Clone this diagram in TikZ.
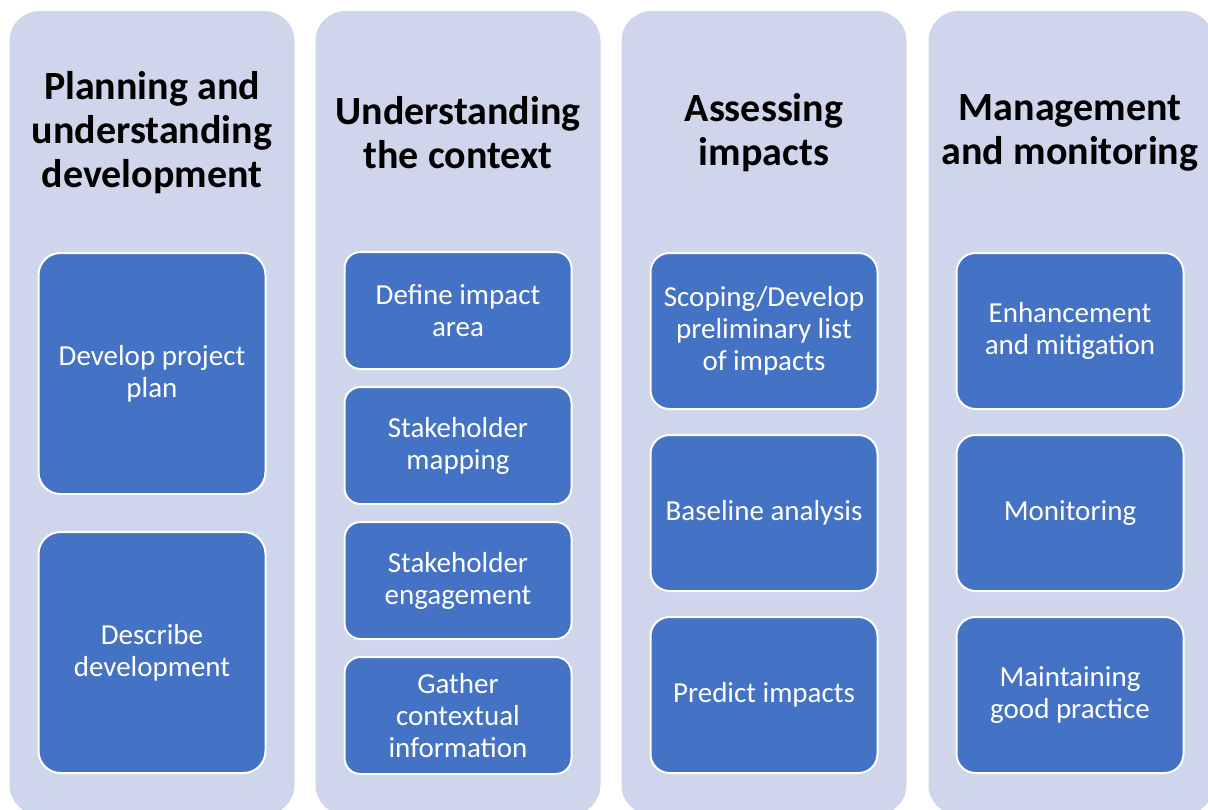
\documentclass[tikz,border=0pt]{standalone}
\usepackage{fontspec}
\setmainfont{Carlito}
\usetikzlibrary{positioning}
\definecolor{laneback}{HTML}{CFD5EA}
\definecolor{stepblue}{HTML}{4472C4}
\tikzset{
lane/.style={
  rectangle,
  rounded corners=30pt,
  fill=laneback,
  minimum width=285pt,
  minimum height=804pt,
  inner sep=0pt
},
lanetitle/.style={
  align=center,
  font=\fontsize{40}{44}\selectfont\bfseries
},
task/.style={
  rectangle,
  rounded corners=16pt,
  fill=stepblue,
  draw=white,
  line width=2pt,
  minimum width=227pt,
  align=center,
  inner sep=0pt,
  text=white,
  font=\fontsize{29}{32}\selectfont
},
}

\begin{document}
\begin{tikzpicture}[x=1pt,y=-1pt]
  \useasboundingbox (0,0) rectangle (1208,809);
  \clip (0,0) rectangle (1208,809);
  % the four lanes
  \node[lane] (plan)    at (152,413) {};
  \node[lane] (context) at (458,413) {};
  \node[lane] (assess)  at (764,413) {};
  \node[lane] (manage)  at (1071,413) {};
  \node[lanetitle] (plan-t)    at (152,133) {Planning and\\understanding\\development};
  \node[lanetitle] (context-t) at (458,133) {Understanding\\the context};
  \node[lanetitle] (assess-t)  at (764,133) {Assessing\\impacts};
  \node[lanetitle] (manage-t)  at (1070,133) {Management\\and monitoring};
  % planning
  \node[task, rounded corners=22pt, minimum height=241pt] (p1) at (152,373.5) {Develop project\\plan};
  \node[task, rounded corners=22pt, minimum height=241pt, below=36pt of p1] (p2) {Describe\\development};
  % context
  \node[task, minimum height=117pt] (c1) at (458,310.5) {Define impact\\area};
  \node[task, minimum height=117pt, below=16pt of c1] (c2) {Stakeholder\\mapping};
  \node[task, minimum height=117pt, below=16pt of c2] (c3) {Stakeholder\\engagement};
  \node[task, minimum height=117pt, below=16pt of c3] (c4) {Gather\\contextual\\information};
  % assessing
  \node[task, rounded corners=19pt, minimum height=156pt] (a1) at (764,331) {Scoping/Develop\\preliminary list\\of impacts};
  \node[task, rounded corners=19pt, minimum height=156pt, below=24pt of a1] (a2) {Baseline analysis};
  \node[task, rounded corners=19pt, minimum height=156pt, below=24pt of a2] (a3) {Predict impacts};
  % management
  \node[task, rounded corners=19pt, minimum height=156pt] (m1) at (1070,331) {Enhancement\\and mitigation};
  \node[task, rounded corners=19pt, minimum height=156pt, below=24pt of m1] (m2) {Monitoring};
  \node[task, rounded corners=19pt, minimum height=156pt, below=24pt of m2] (m3) {Maintaining\\good practice};
\end{tikzpicture}
\end{document}
